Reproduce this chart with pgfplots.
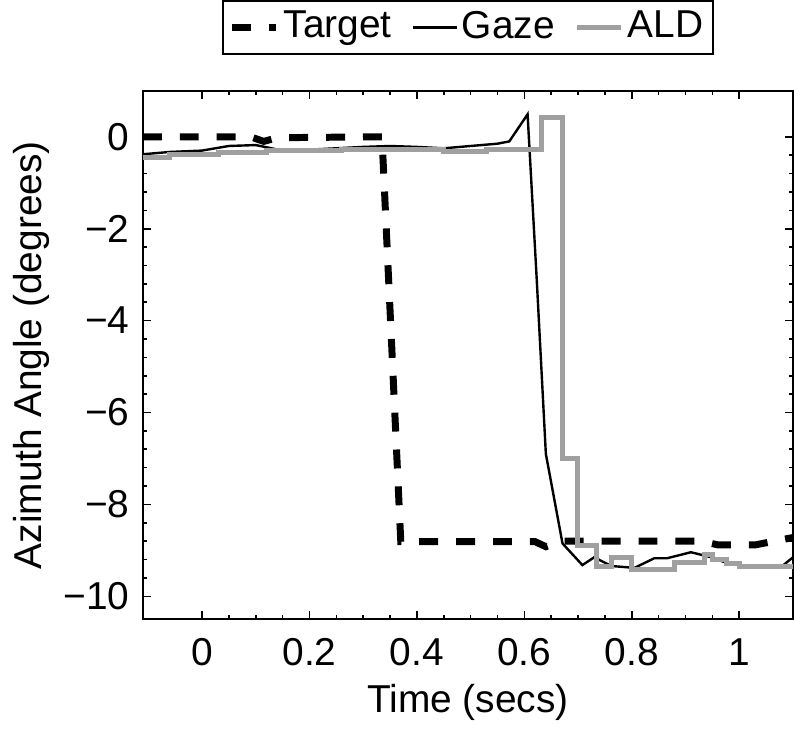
\documentclass[border=0pt]{standalone}
\usepackage{pgfplots}
\pgfplotsset{compat=1.18}
\usepackage{fontspec}
\setmainfont{Liberation Sans}
\definecolor{aldgray}{RGB}{160,160,160}
\begin{document}
\fontsize{19.5}{23}\selectfont
\begin{tikzpicture}
\begin{axis}[
  scale only axis,
  width=326pt, height=265pt,
  xmin=-0.11, xmax=1.1,
  ymin=-10.5, ymax=1,
  xtick={0,0.2,0.4,0.6,0.8,1},
  xticklabels={0,0.2,0.4,0.6,0.8,1},
  ytick={-10,-8,-6,-4,-2,0},
  yticklabels={−10,−8,−6,−4,−2,0},
  minor x tick num=3,
  minor y tick num=4,
  tick align=inside,
  tick pos=both,
  major tick length=4pt,
  minor tick length=2pt,
  every tick/.style={black, line width=0.8pt},
  axis line style={line width=1pt},
  tick label style={font=\fontsize{19.5}{23}\selectfont},
  label style={font=\fontsize{19.5}{23}\selectfont},
  xlabel={Time (secs)},
  ylabel={Azimuth Angle (degrees)},
  xticklabel style={yshift=-3pt},
  xlabel style={yshift=4pt},
  ylabel style={yshift=-6pt},
  legend columns=3,
  legend style={at={(axis description cs:0.5,1.068)}, anchor=south, draw=black, line width=1pt,
    font=\fontsize{19.5}{23}\selectfont, inner sep=3pt,
    /tikz/every even column/.append style={column sep=8pt}},
  legend image code/.code={\draw[#1] (0pt,0pt) -- (22pt,0pt);},
]
\addplot[black, line width=3.5pt, dash pattern=on 9.5pt off 9pt] coordinates {
(-0.11,0.0) (0.09,0.0) (0.115,-0.1) (0.14,-0.02) (0.335,0.0) (0.37,-8.81)
(0.62,-8.81) (0.64,-8.92) (0.67,-8.8) (0.93,-8.8) (0.96,-8.88) (1.03,-8.88) (1.1,-8.72)
};
\addlegendentry{Target}
\addplot[black, line width=1.2pt] coordinates {
(-0.11,-0.38) (-0.06,-0.33) (0.0,-0.3) (0.05,-0.2) (0.1,-0.18) (0.15,-0.3)
(0.2,-0.28) (0.25,-0.25) (0.3,-0.22) (0.35,-0.2) (0.4,-0.22) (0.45,-0.25)
(0.5,-0.2) (0.55,-0.15) (0.572,-0.1) (0.606,0.49) (0.623,-3.1) (0.64,-6.9)
(0.671,-8.85) (0.708,-9.32) (0.73,-9.15) (0.762,-9.34) (0.805,-9.38) (0.842,-9.17)
(0.866,-9.17) (0.91,-9.04) (0.948,-9.15) (0.978,-9.28) (1.01,-9.34) (1.08,-9.34) (1.1,-9.15)
};
\addlegendentry{Gaze}
\addplot[aldgray, line width=2.5pt, const plot] coordinates {
(-0.11,-0.45) (-0.06,-0.38) (0.03,-0.35) (0.12,-0.3) (0.2,-0.3) (0.26,-0.28)
(0.45,-0.32) (0.53,-0.28) (0.632,0.42) (0.671,-7.0) (0.699,-8.9) (0.734,-9.35)
(0.762,-9.15) (0.80,-9.42) (0.88,-9.26) (0.935,-9.1) (0.95,-9.2) (0.976,-9.28)
(1.0,-9.35) (1.1,-9.35)
};
\addlegendentry{ALD}
\end{axis}
\end{tikzpicture}
\end{document}
